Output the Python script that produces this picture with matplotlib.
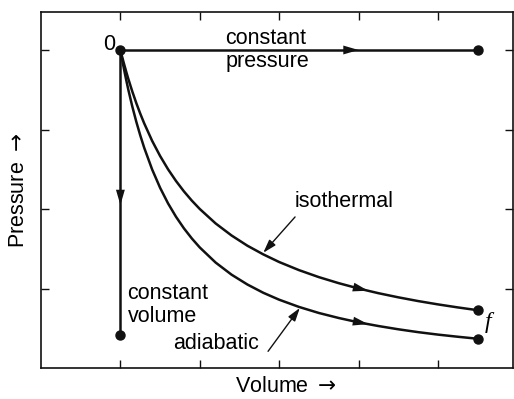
import numpy as np
import matplotlib
matplotlib.use("Agg")
import matplotlib.pyplot as plt
from matplotlib.patches import FancyArrowPatch

plt.rcParams['font.family'] = ['Liberation Sans', 'DejaVu Sans']
plt.rcParams['mathtext.fontset'] = 'dejavusans'

# Data
origin = (1.0, 4.0)
const_p_V = [1.0, 5.5]
const_p_P = [4.0, 4.0]
const_v_V = [1.0, 1.0]
const_v_P = [4.0, 0.415]
iso_V = [1.0, 1.025, 1.05, 1.075, 1.1, 1.15, 1.2, 1.25, 1.3, 1.4, 1.5, 1.6, 1.7, 1.8, 1.9,
         2.0, 2.2, 2.4, 2.6, 2.8, 3.0, 3.25, 3.5, 3.75, 4.0, 4.25, 4.5, 4.75, 5.0, 5.25, 5.5]
iso_P = [4.0, 3.902, 3.810, 3.721, 3.636, 3.478, 3.333, 3.2, 3.077, 2.857, 2.667, 2.5, 2.353,
         2.222, 2.105, 2.0, 1.818, 1.667, 1.538, 1.429, 1.333, 1.231, 1.143, 1.067, 1.0,
         0.941, 0.889, 0.842, 0.8, 0.762, 0.727]
adi_V = [1.0, 1.025, 1.05, 1.075, 1.1, 1.15, 1.2, 1.25, 1.3, 1.4, 1.5, 1.6, 1.7, 1.8, 1.9,
         2.0, 2.2, 2.4, 2.6, 2.8, 3.0, 3.25, 3.5, 3.75, 4.0, 4.25, 4.5, 4.75, 5.0, 5.25, 5.5]
adi_P = [4.0, 3.864, 3.736, 3.615, 3.500, 3.289, 3.099, 2.927, 2.770, 2.497, 2.267, 2.071,
         1.903, 1.757, 1.629, 1.516, 1.326, 1.174, 1.050, 0.946, 0.859, 0.768, 0.692, 0.629,
         0.574, 0.528, 0.487, 0.451, 0.420, 0.393, 0.368]
xticks = [1, 2, 3, 4, 5]
yticks = [1, 2, 3, 4]

fig = plt.figure(figsize=(5.14, 3.99), dpi=100)
ax = fig.add_axes([41/514, 31/399, 472/514, 356/399])
ax.set_xlim(0, 5.945)
ax.set_ylim(0, 4.478)

lw = 1.8
c = '#111111'
kw = dict(color=c, lw=lw, solid_capstyle='round', solid_joinstyle='round')
ax.plot(const_p_V, const_p_P, **kw)
ax.plot(const_v_V, const_v_P, **kw)
ax.plot(iso_V, iso_P, **kw)
ax.plot(adi_V, adi_P, **kw)

ms = 6.5
for (x, y) in [origin, (const_p_V[-1], const_p_P[-1]), (const_v_V[-1], const_v_P[-1]),
               (iso_V[-1], iso_P[-1]), (adi_V[-1], adi_P[-1])]:
    ax.plot([x], [y], 'o', color=c, ms=ms)

def arrow(p0, p1):
    a = FancyArrowPatch(p0, p1, arrowstyle='-|>,head_length=1.1,head_width=0.32',
                        mutation_scale=10, color=c, lw=0, shrinkA=0, shrinkB=0)
    ax.add_patch(a)

arrow((3.8, 4.0), (4.0, 4.0))
arrow((1.0, 2.3), (1.0, 2.05))
for V, P in [(iso_V, iso_P), (adi_V, adi_P)]:
    x0, x1 = 3.92, 4.12
    arrow((x0, np.interp(x0, V, P)), (x1, np.interp(x1, V, P)))

fs = 15.5
ax.text(2.32, 4.0, 'constant\npressure', fontsize=fs, ha='left', va='center', linespacing=1.1)
ax.text(1.09, 0.79, 'constant\nvolume', fontsize=fs, ha='left', va='center', linespacing=1.1)
ax.text(0.93, 4.0, '0', fontsize=fs, ha='right', va='baseline')
ax.text(5.63, 0.57, 'f', fontsize=17, ha='center', va='center',
        family=['Liberation Serif', 'DejaVu Serif'], style='italic')

ax.text(3.2, 2.1, 'isothermal', fontsize=fs, ha='left', va='center')
ax.text(2.75, 0.31, 'adiabatic', fontsize=fs, ha='right', va='center')
ap = dict(arrowstyle='-|>,head_length=0.8,head_width=0.25', color=c, lw=1.0,
          shrinkA=0, shrinkB=0, mutation_scale=10)
ax.annotate('', xy=(2.80, 1.45), xytext=(3.20, 1.90), arrowprops=ap)
ax.annotate('', xy=(3.26, 0.755), xytext=(2.86, 0.21), arrowprops=ap)

ax.set_xticks(xticks)
ax.set_yticks(yticks)
ax.set_xticklabels([])
ax.set_yticklabels([])
ax.tick_params(direction='in', length=6, width=1, top=True, right=True, color=c)
for s in ax.spines.values():
    s.set_linewidth(1.2)
    s.set_color(c)

ax.set_xlabel(r'Volume$\;\rightarrow$', fontsize=fs)
ax.xaxis.set_label_coords(0.52, -0.022)
ax.set_ylabel(r'Pressure$\;\rightarrow$', fontsize=fs, labelpad=5)

fig.savefig('out.png', dpi=100)
